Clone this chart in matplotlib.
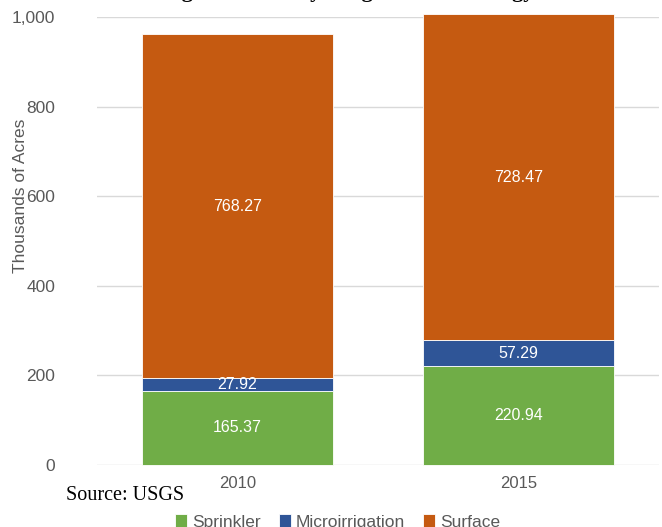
import matplotlib.pyplot as plt
import numpy as np

# datos
years = ['2010', '2015']
sprinkler = [165.37, 220.94]
micro = [27.92, 57.29]
surface = [768.27, 728.47]

colores = {'Sprinkler': '#70AD47', 'Microirrigation': '#2F5597', 'Surface': '#C55A11'}
gris = '#595959'

plt.rcParams['font.family'] = ['Liberation Sans', 'DejaVu Sans']

fig = plt.figure(figsize=(6.62, 5.27), dpi=100)
ax = fig.add_axes([97 / 662, 1 - 465 / 527, 562 / 662, 448 / 527])

x = np.arange(len(years))
w = 0.68
base = np.zeros(len(years))
for nombre, vals in [('Sprinkler', sprinkler), ('Microirrigation', micro), ('Surface', surface)]:
    bars = ax.bar(x, vals, w, bottom=base, color=colores[nombre], label=nombre,
                  edgecolor='white', linewidth=0.6, clip_on=False, zorder=3)
    for b, v, b0 in zip(bars, vals, base):
        ax.text(b.get_x() + b.get_width() / 2, b0 + v / 2, f'{v:.2f}',
                ha='center', va='center', color='white', fontsize=11.5, zorder=4)
    base = base + np.array(vals)

ax.set_xlim(-0.5, 1.5)
ax.set_ylim(0, 1000)
ax.set_yticks(range(0, 1001, 200))
ax.set_yticklabels([f'{v:,}' for v in range(0, 1001, 200)])
ax.set_xticks(x)
ax.set_xticklabels(years)
ax.tick_params(axis='y', length=0, labelsize=12.5, colors=gris, pad=30)
ax.tick_params(axis='x', length=0, labelsize=12, colors=gris, pad=8)
ax.yaxis.grid(True, color='#d9d9d9', linewidth=1, zorder=0)
ax.set_axisbelow(True)
for s in ax.spines.values():
    s.set_visible(False)

ax.set_ylabel('Thousands of Acres', fontsize=12.5, color=gris)
ax.yaxis.set_label_coords(-0.122, 0.6)

# titulo cortado arriba, solo se ven los trazos descendentes
fig.text(0.515, 1.0 + 3 / 527, 'Irrigated Acres by Irrigation Technology', ha='center', va='baseline',
         fontsize=16, fontweight='bold', family='Liberation Serif')

fig.text(66 / 662, 1 - 496 / 527, 'Source: USGS', ha='left', va='center',
         fontsize=14.5, family='Liberation Serif')

fig.legend(loc='center', bbox_to_anchor=(0.51, 1 - 522 / 527), ncol=3, frameon=False,
           fontsize=12.5, handlelength=0.7, handleheight=0.7, handletextpad=0.3,
           columnspacing=1.0, labelcolor=gris)

plt.savefig('out.png', dpi=100)
